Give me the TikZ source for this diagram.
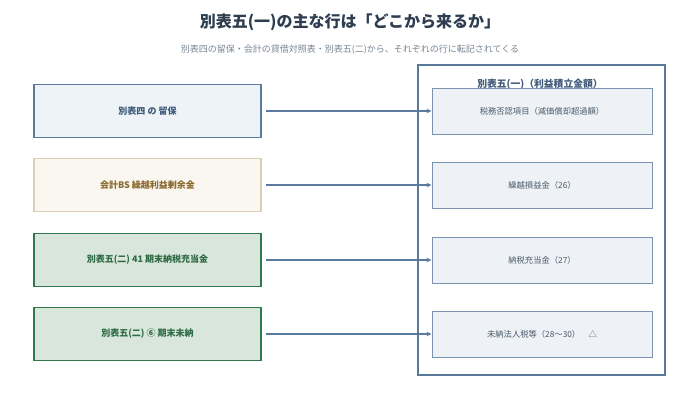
\documentclass[tikz,border=0pt]{standalone}
\usepackage{fontspec}
\setmainfont{Noto Sans CJK JP}
\usetikzlibrary{arrows.meta}
\definecolor{titlec}{HTML}{2E3E50}
\definecolor{subc}{HTML}{7A8794}
\definecolor{blueS}{HTML}{5A7AA0}
\definecolor{blueF}{HTML}{EEF3F8}
\definecolor{blueT}{HTML}{3F5A7A}
\definecolor{tanS}{HTML}{DCCDB6}
\definecolor{tanF}{HTML}{FAF6F0}
\definecolor{tanT}{HTML}{8B6A30}
\definecolor{grnS}{HTML}{2F7A4A}
\definecolor{grnF}{HTML}{D9E6DB}
\definecolor{grnT}{HTML}{2E6B45}
\definecolor{rS}{HTML}{7A93B0}
\definecolor{rF}{HTML}{EEF2F7}
\definecolor{rT}{HTML}{4A5A6A}
\definecolor{frameS}{HTML}{5A7A9A}
\tikzset{
  srcbox/.style={draw, line width=1.5pt, minimum width=227pt, minimum height=53pt, inner sep=0pt, font=\fontsize{9}{11}\selectfont\bfseries},
  bluebox/.style={srcbox, draw=blueS, fill=blueF, text=blueT},
  tanbox/.style={srcbox, draw=tanS, fill=tanF, text=tanT},
  grnbox/.style={srcbox, draw=grnS, fill=grnF, text=grnT},
  dstbox/.style={draw=rS, fill=rF, text=rT, line width=1pt, minimum width=220pt, minimum height=46pt, inner sep=0pt, font=\fontsize{8.3}{10}\selectfont},
  conn/.style={draw=blueS, line width=1.6pt, -{Stealth[length=5pt,width=4.5pt]}},
}
\begin{document}
\begin{tikzpicture}[x=1pt,y=-1pt]
\useasboundingbox[fill=white] (0,0) rectangle (700,413);
\node[font=\fontsize{16}{19}\selectfont\bfseries, text=titlec] (title) at (350,22) {別表五(一)の主な行は「どこから来るか」};
\node[font=\fontsize{9}{11}\selectfont, text=subc] (sub) at (350,50) {別表四の留保・会計の貸借対照表・別表五(二)から、それぞれの行に転記されてくる};
\node[draw=frameS, line width=1.5pt, minimum width=247pt, minimum height=310pt, inner sep=0pt] (frame) at (541.5,220) {};
\node[font=\fontsize{9.8}{12}\selectfont\bfseries, text=blueT] (ftitle) at (540,84) {別表五(一)（利益積立金額）};
\node[bluebox] (s1) at (147.5,111) {別表四 の 留保};
\node[tanbox] (s2) at (147.5,185) {会計BS 繰越利益剰余金};
\node[grnbox] (s3) at (147.5,260) {別表五(二) 41 期末納税充当金};
\node[grnbox] (s4) at (147.5,334) {別表五(二) ⑥ 期末未納};
\node[dstbox] (d1) at (542,111) {税務否認項目（減価償却超過額）};
\node[dstbox] (d2) at (542,185) {繰越損益金（26）};
\node[dstbox] (d3) at (542,260) {納税充当金（27）};
\node[dstbox] (d4) at (542,334) {未納法人税等（28～30）\quad △};
\foreach \i in {1,2,3,4}{
  \draw[conn] ([xshift=4pt]s\i.east) -- (d\i.west);
}
\end{tikzpicture}
\end{document}
